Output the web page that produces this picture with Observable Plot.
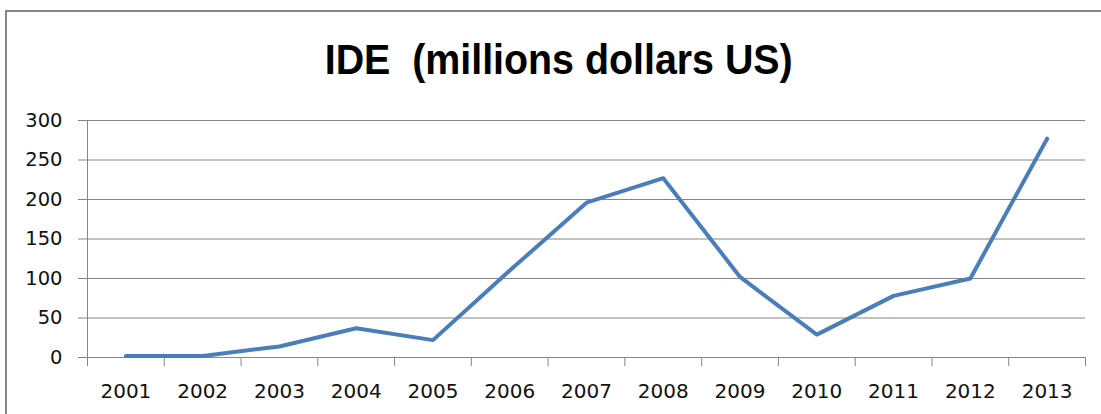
<!DOCTYPE html>
<html>
<head>
<meta charset="utf-8">
<script src="https://cdn.jsdelivr.net/npm/d3@7"></script>
<script src="https://cdn.jsdelivr.net/npm/@observablehq/plot@0.6"></script>
<style>
  html, body { margin: 0; padding: 0; background: #fff; overflow: hidden; }
  #wrap { position: relative; width: 1101px; height: 414px; overflow: hidden; background: #fff; }
  #frame { position: absolute; left: 5px; top: 10px; right: 0; bottom: 0; z-index: 2; pointer-events: none;
           border-left: 2px solid #868686; border-top: 2px solid #868686; }
  #title { position: absolute; top: 38.5px; white-space: nowrap; font-family: "Liberation Sans", Arial, sans-serif;
           font-weight: bold; font-size: 42px; line-height: 42px; color: #000; transform-origin: center center; }
  #chart { position: absolute; left: 0; top: 100px; }
</style>
</head>
<body>
<div id="wrap">
  <div id="frame"></div>
  <div id="title"></div>
  <div id="chart"></div>
</div>
<script>
const titleText = "IDE\u00a0\u00a0(millions dollars US)";
const years = [2001, 2002, 2003, 2004, 2005, 2006, 2007, 2008, 2009, 2010, 2011, 2012, 2013];
const values = [2, 2, 14, 37, 22, 110, 196, 227, 102, 29, 78, 100, 277];
const yTicks = [0, 50, 100, 150, 200, 250, 300];

const data = years.map((year, i) => ({year, value: values[i]}));
const boundaries = years.map(y => y - 0.5).concat([years[years.length - 1] + 0.5]);

// Title, scaled to the reference width
const title = document.getElementById("title");
title.textContent = titleText;
const ctx = document.createElement("canvas").getContext("2d");
ctx.font = "bold 42px 'Liberation Sans'";
const w = ctx.measureText(titleText).width;
const targetW = 468;
title.style.left = (559 - w / 2) + "px";
title.style.transform = `scaleX(${targetW / w})`;

const gridColor = "#868686";
const chart = Plot.plot({
  width: 1101,
  height: 314,
  marginLeft: 87,
  marginRight: 16,
  marginTop: 20,
  marginBottom: 57,
  x: {type: "linear", domain: [years[0] - 0.5, years[years.length - 1] + 0.5], axis: null},
  y: {domain: [0, 300], axis: null},
  style: {fontFamily: "'DejaVu Sans', sans-serif", fontSize: "19.5px", color: "#000", background: "transparent", overflow: "visible"},
  marks: [
    Plot.ruleY(yTicks, {stroke: gridColor, strokeWidth: 1}),
    Plot.ruleX([years[0] - 0.5], {y1: 0, y2: 300, stroke: gridColor, strokeWidth: 1}),
    Plot.axisY({ticks: yTicks, tickSize: 9, tickPadding: 16, stroke: gridColor, fill: "#111", label: null, tickFormat: d => String(d)}),
    Plot.axisX({ticks: boundaries, tickSize: 9, stroke: gridColor, tickFormat: () => "", label: null}),
    Plot.axisX({ticks: years, tickSize: 0, tickPadding: 26, fill: "#111", fontSize: 20, tickFormat: d => String(d), label: null}),
    Plot.line(data, {x: "year", y: "value", stroke: "#4a7ebb", strokeWidth: 4, strokeLinejoin: "round", strokeLinecap: "round"})
  ]
});
document.getElementById("chart").appendChild(chart);
</script>
</body>
</html>
